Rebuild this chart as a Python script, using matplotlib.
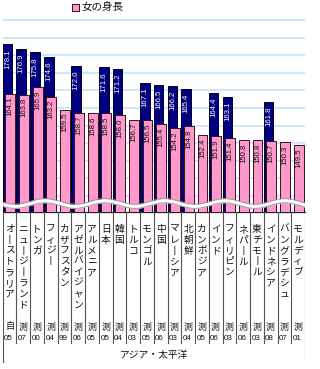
import numpy as np
import matplotlib
matplotlib.use("Agg")
import matplotlib.pyplot as plt
from matplotlib.patches import Rectangle

plt.rcParams['font.family'] = ['Noto Sans CJK JP', 'DejaVu Sans']

# data
countries = ['オーストラリア', 'ニュージーランド', 'トンガ', 'フィジー', 'カザフスタン',
             'アゼルバイジャン', 'アルメニア', '日本', '韓国', 'トルコ', 'モンゴル', '中国',
             'マレーシア', '北朝鮮', 'カンボジア', 'インド', 'フィリピン', 'ネパール',
             '東チモール', 'インドネシア', 'バングラデシュ', 'モルディブ']
male = [178.1, 176.9, 175.8, 174.6, None, 172.0, None, 171.6, 171.2, None, 167.1,
        166.5, 166.2, 165.4, None, 164.4, 163.1, None, None, 161.8, None, None]
female = [164.1, 163.8, 165.9, 163.2, 159.5, 158.7, 158.6, 158.5, 158.0, 156.7, 156.5,
          155.4, 154.2, 154.8, 152.4, 151.9, 151.4, 150.8, 150.8, 150.7, 150.3, 149.5]
source = ['自'] + ['測'] * 21
years = ['05', '07', '00', '04', '99', '06', '05', '05', '04', '03', '05', '06',
         '03', '04', '05', '06', '03', '06', '03', '08', '07', '01']
region = 'アジア・太平洋'
grid_vals = [135, 140, 145, 150, 155, 160, 165, 170, 175, 180, 185]

W, H = 320, 369
fig = plt.figure(figsize=(W / 100, H / 100), dpi=100)
fig.patch.set_facecolor('white')

x0 = 2.7 / W
w = (305 - 2.7) / W
yb = 1 - 212 / H
ax = fig.add_axes([x0, yb, w, 1 - yb])
ax.set_xlim(0, 22)
ax.set_ylim(130.45, 190.68)
for s in ['top', 'left', 'right']:
    ax.spines[s].set_visible(False)
ax.spines['bottom'].set_color('#222222')
ax.spines['bottom'].set_linewidth(0.9)
ax.set_xticks([])
ax.set_yticks([])
ax.set_facecolor('none')

for g in grid_vals:
    ax.axhline(g, color='#BFE2F7', lw=1.1, zorder=0)

n = len(countries)
idx = np.arange(n)
mi = [i for i in range(n) if male[i] is not None]
mv = [male[i] for i in mi]
ax.bar(np.array(mi) + 0.35, mv, width=0.7, color='#000080', edgecolor='#000022',
       linewidth=0.7, zorder=2)
ax.bar(idx + 0.54, female, width=0.72, color='#FF99CC', edgecolor='#331122',
       linewidth=0.7, zorder=3)

for i, v in zip(mi, mv):
    ax.annotate(f'{v:.1f}', (i + 0.35, v), xytext=(0, -3.5), textcoords='offset points',
                rotation=90, ha='center', va='top', color='white', fontsize=5.6,
                family='Liberation Sans', zorder=4)
for i, v in enumerate(female):
    ax.annotate(f'{v:.1f}', (i + 0.54, v), xytext=(0, -2.4), textcoords='offset points',
                rotation=90, ha='center', va='top', color='#111111', fontsize=5.6,
                family='Liberation Sans', zorder=4)

# axis break wave
xs = np.linspace(0, 22, 500)
yc = 132.87 + 0.8 * np.cos(2 * np.pi * (xs - 3.08) / 4.36)
ax.fill_between(xs, yc - 0.6, yc + 0.6, color='white', zorder=5, lw=0)
ax.plot(xs, yc - 0.6, color='#999999', lw=0.7, zorder=6)
ax.plot(xs, yc + 0.6, color='#999999', lw=0.7, zorder=6)

# label table below
tb = fig.add_axes([x0, 0, w, yb])
tb.set_xlim(0, 22)
tb.set_ylim(H, 212)
tb.axis('off')
for k in range(n + 1):
    bottom = 362 if k in (0, n) else 343
    tb.plot([k, k], [212, bottom], color='#555555', lw=0.8)

for i, name in enumerate(countries):
    txt = '\n'.join(name.replace('ー', '丨'))
    tb.text(i + 0.5, 224, txt, ha='center', va='top', fontsize=7,
            linespacing=1.1, color='#111111')
    tb.text(i + 0.5, 327, source[i], ha='center', va='center', fontsize=6.5,
            color='#111111')
    tb.text(i + 0.1, 338, years[i], ha='left', va='center', fontsize=5.8,
            family='Liberation Sans', color='#111111')
tb.text(11, 355, region, ha='center', va='center', fontsize=7, color='#111111')

# legend
fig.patches.append(Rectangle((72 / W, 1 - 11 / H), 6.5 / W, 6.5 / H,
                             transform=fig.transFigure, facecolor='#FF99CC',
                             edgecolor='#331122', lw=0.7))
fig.text(81 / W, 1 - 8 / H, '女の身長', ha='left', va='center', fontsize=7.6,
         color='#111111')

fig.savefig('out.png', dpi=100)
